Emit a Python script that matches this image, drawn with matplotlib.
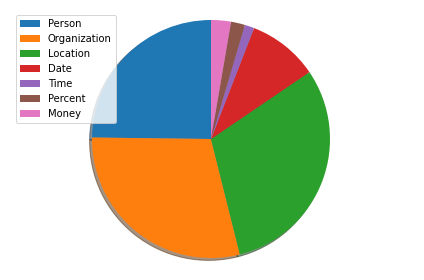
import matplotlib
matplotlib.use("Agg")
import matplotlib.pyplot as plt

labels = ["Person", "Organization", "Location", "Date", "Time", "Percent", "Money"]
shares = [24.8, 29.1, 30.6, 9.6, 1.3, 1.9, 2.7]

W, H, DPI = 424, 280, 72
fig = plt.figure(figsize=(W / DPI, H / DPI), dpi=DPI)
ax = fig.add_axes([0, 0, 1, 1])

wedges, _ = ax.pie(shares, startangle=90, shadow=True)

# place pie: centre at (211, 139) px from top-left, radius 119 px
r = 119.0
cx, cy = 211.0, 139.0
ax.set_aspect("equal", adjustable="box")
ax.set_xlim(-cx / r, (W - cx) / r)
ax.set_ylim(-(H - cy) / r, cy / r)
ax.set_axis_off()

fig.legend(wedges, labels, loc="upper left",
           bbox_to_anchor=(16 / W, 1 - 15 / H), borderaxespad=0, fontsize=10)

fig.savefig("out.png", dpi=DPI)
